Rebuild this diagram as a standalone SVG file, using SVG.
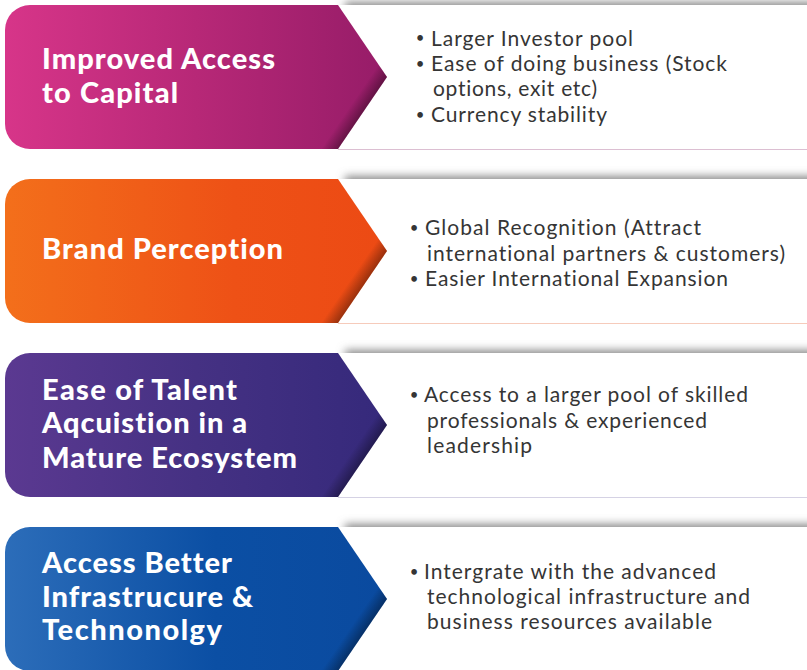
<svg xmlns="http://www.w3.org/2000/svg" width="807" height="670" viewBox="0 0 807 670">
<defs>
<style>
.hd{font-family:Lato,"Open Sans","DejaVu Sans",sans-serif;font-weight:900;font-size:29px;fill:#ffffff;font-variant-ligatures:none}
.bd{font-family:Lato,"Open Sans","DejaVu Sans",sans-serif;font-weight:400;font-size:21px;fill:#353535;font-variant-ligatures:none}
.bl{font-family:Lato,"Open Sans","DejaVu Sans",sans-serif;font-size:15px;fill:#353535;text-anchor:middle}
.panel{fill:#ffffff}
.shadow{fill:#8a8a8a;filter:url(#sh)}
</style>
<filter id="sh" x="-10%" y="-150%" width="120%" height="400%"><feGaussianBlur stdDeviation="4"/></filter>
<linearGradient id="g1" gradientUnits="userSpaceOnUse" x1="5" y1="0" x2="387" y2="0"><stop offset="0" stop-color="#d73589"/><stop offset="0.5" stop-color="#b72877"/><stop offset="1" stop-color="#961c68"/></linearGradient>
<linearGradient id="g2" gradientUnits="userSpaceOnUse" x1="5" y1="0" x2="387" y2="0"><stop offset="0" stop-color="#f36f1b"/><stop offset="0.6" stop-color="#ee5116"/><stop offset="1" stop-color="#ec4a14"/></linearGradient>
<linearGradient id="g3" gradientUnits="userSpaceOnUse" x1="5" y1="0" x2="387" y2="0"><stop offset="0" stop-color="#5b3991"/><stop offset="0.5" stop-color="#453183"/><stop offset="1" stop-color="#35297b"/></linearGradient>
<linearGradient id="g4" gradientUnits="userSpaceOnUse" x1="5" y1="0" x2="387" y2="0"><stop offset="0" stop-color="#2c6db9"/><stop offset="0.55" stop-color="#0b4fa4"/><stop offset="1" stop-color="#0a4a9f"/></linearGradient>
<linearGradient id="tip" gradientUnits="userSpaceOnUse" x1="350.9" y1="105.1" x2="362.5" y2="113"><stop offset="0" stop-color="#000" stop-opacity="0"/><stop offset="1" stop-color="#000" stop-opacity="0.35"/></linearGradient>
<path id="arrow" d="M30 5H338L387 77L338 149H30A25 25 0 0 1 5 124V30A25 25 0 0 1 30 5Z"/>
</defs>
<rect width="807" height="670" fill="#ffffff"/>

<g id="row1">
<rect class="shadow" x="345" y="2" width="490" height="12"/>
<rect class="panel" x="330" y="5" width="480" height="144"/>
<line x1="338" y1="149.5" x2="807" y2="149.5" stroke="#dcbfd2" stroke-width="1"/>
<use href="#arrow" fill="url(#g1)"/>
<use href="#arrow" fill="url(#tip)"/>
<text class="hd" x="42" y="69" textLength="233" lengthAdjust="spacing">Improved Access</text>
<text class="hd" x="42" y="103" textLength="136" lengthAdjust="spacing">to Capital</text>
<text class="bl" x="420" y="43">•</text>
<text class="bd" x="431" y="46" textLength="202" lengthAdjust="spacing">Larger Investor pool</text>
<text class="bl" x="420" y="69">•</text>
<text class="bd" x="431" y="71" textLength="296" lengthAdjust="spacing">Ease of doing business (Stock</text>
<text class="bd" x="433" y="96" textLength="164" lengthAdjust="spacing">options, exit etc)</text>
<text class="bl" x="420" y="120">•</text>
<text class="bd" x="431" y="122" textLength="176" lengthAdjust="spacing">Currency stability</text>
</g>

<g id="row2" transform="translate(0,174)">
<rect class="shadow" x="345" y="2" width="490" height="12"/>
<rect class="panel" x="330" y="5" width="480" height="144"/>
<line x1="338" y1="149.5" x2="807" y2="149.5" stroke="#f6cbbb" stroke-width="1"/>
<use href="#arrow" fill="url(#g2)"/>
<use href="#arrow" fill="url(#tip)"/>
<text class="hd" x="42" y="85" textLength="241" lengthAdjust="spacing">Brand Perception</text>
<text class="bl" x="414" y="59">•</text>
<text class="bd" x="425" y="61" textLength="276" lengthAdjust="spacing">Global Recognition (Attract</text>
<text class="bd" x="427" y="87" textLength="358" lengthAdjust="spacing">international partners &amp; customers)</text>
<text class="bl" x="414" y="110">•</text>
<text class="bd" x="425" y="112" textLength="303" lengthAdjust="spacing">Easier International Expansion</text>
</g>

<g id="row3" transform="translate(0,348)">
<rect class="shadow" x="345" y="2" width="490" height="12"/>
<rect class="panel" x="330" y="5" width="480" height="144"/>
<line x1="338" y1="149.5" x2="807" y2="149.5" stroke="#d5d2e4" stroke-width="1"/>
<use href="#arrow" fill="url(#g3)"/>
<use href="#arrow" fill="url(#tip)"/>
<text class="hd" x="42" y="52" textLength="195" lengthAdjust="spacing">Ease of Talent</text>
<text class="hd" x="42" y="85" textLength="205" lengthAdjust="spacing">Aqcuistion in a</text>
<text class="hd" x="42" y="120" textLength="255" lengthAdjust="spacing">Mature Ecosystem</text>
<text class="bl" x="414" y="52">•</text>
<text class="bd" x="424" y="54" textLength="324" lengthAdjust="spacing">Access to a larger pool of skilled</text>
<text class="bd" x="427" y="80" textLength="280" lengthAdjust="spacing">professionals &amp; experienced</text>
<text class="bd" x="427" y="105" textLength="105" lengthAdjust="spacing">leadership</text>
</g>

<g id="row4" transform="translate(0,522)">
<rect class="shadow" x="345" y="2" width="490" height="12"/>
<rect class="panel" x="330" y="5" width="480" height="144"/>
<use href="#arrow" fill="url(#g4)"/>
<use href="#arrow" fill="url(#tip)"/>
<text class="hd" x="42" y="51" textLength="190" lengthAdjust="spacing">Access Better</text>
<text class="hd" x="42" y="85" textLength="211" lengthAdjust="spacing">Infrastrucure &amp;</text>
<text class="hd" x="42" y="118" textLength="180" lengthAdjust="spacing">Technonolgy</text>
<text class="bl" x="414" y="55">•</text>
<text class="bd" x="424" y="57" textLength="292" lengthAdjust="spacing">Intergrate with the advanced</text>
<text class="bd" x="427" y="82" textLength="323" lengthAdjust="spacing">technological infrastructure and</text>
<text class="bd" x="427" y="107" textLength="285" lengthAdjust="spacing">business resources available</text>
</g>
</svg>
